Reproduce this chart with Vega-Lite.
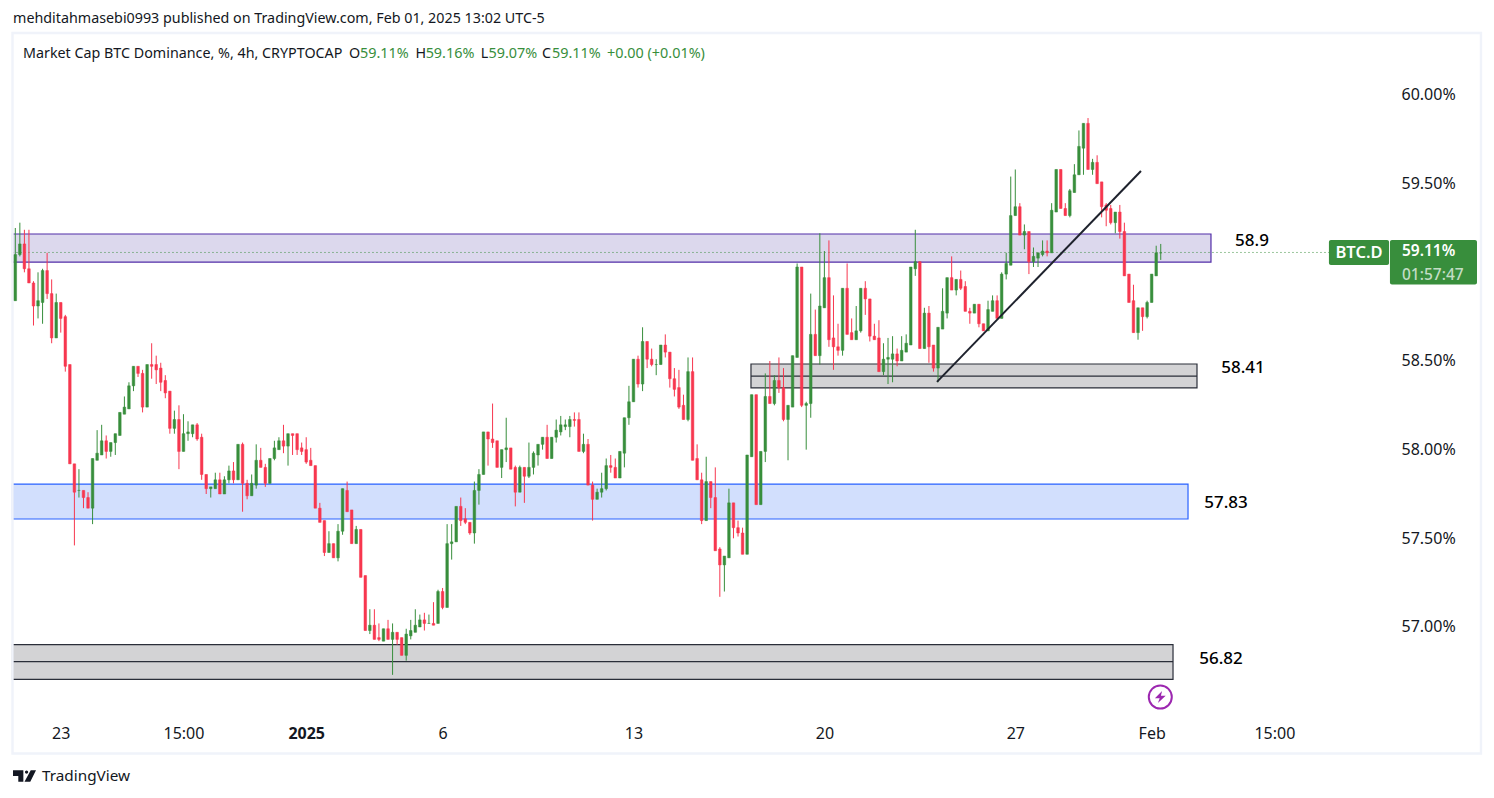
{"$schema":"https://vega.github.io/schema/vega-lite/v6.json","width":1494,"height":798,"padding":0,"autosize":{"type":"none"},"background":"#ffffff","config":{"view":{"stroke":null},"font":"Noto Sans"},
"datasets":{"candles":[
{"t":"2024-12-21T11:00Z","o":58.84,"h":59.25,"l":58.84,"c":59.10},{"t":"2024-12-21T15:00Z","o":59.10,"h":59.28,"l":59.09,"c":59.16},{"t":"2024-12-21T19:00Z","o":59.16,"h":59.24,"l":59.00,"c":59.02},{"t":"2024-12-21T23:00Z","o":59.02,"h":59.24,"l":58.94,"c":58.94},
{"t":"2024-12-22T03:00Z","o":58.94,"h":58.95,"l":58.70,"c":58.81},{"t":"2024-12-22T07:00Z","o":58.81,"h":59.00,"l":58.74,"c":58.84},{"t":"2024-12-22T11:00Z","o":58.83,"h":59.02,"l":58.71,"c":59.01},{"t":"2024-12-22T15:00Z","o":59.01,"h":59.11,"l":58.85,"c":58.88},{"t":"2024-12-22T19:00Z","o":58.88,"h":58.96,"l":58.60,"c":58.63},{"t":"2024-12-22T23:00Z","o":58.63,"h":58.88,"l":58.63,"c":58.83},
{"t":"2024-12-23T03:00Z","o":58.83,"h":58.83,"l":58.66,"c":58.74},{"t":"2024-12-23T07:00Z","o":58.75,"h":58.76,"l":58.44,"c":58.47},{"t":"2024-12-23T11:00Z","o":58.48,"h":58.48,"l":57.92,"c":57.92},{"t":"2024-12-23T15:00Z","o":57.92,"h":57.92,"l":57.46,"c":57.76},{"t":"2024-12-23T19:00Z","o":57.77,"h":57.89,"l":57.73,"c":57.77},{"t":"2024-12-23T23:00Z","o":57.77,"h":57.77,"l":57.67,"c":57.73},
{"t":"2024-12-24T03:00Z","o":57.73,"h":57.76,"l":57.67,"c":57.67},{"t":"2024-12-24T07:00Z","o":57.67,"h":57.95,"l":57.58,"c":57.95},{"t":"2024-12-24T11:00Z","o":57.94,"h":58.11,"l":57.94,"c":57.98},{"t":"2024-12-24T15:00Z","o":57.97,"h":58.14,"l":57.97,"c":58.05},{"t":"2024-12-24T19:00Z","o":58.05,"h":58.08,"l":57.95,"c":57.99},{"t":"2024-12-24T23:00Z","o":57.99,"h":58.04,"l":57.96,"c":58.04},
{"t":"2024-12-25T03:00Z","o":58.04,"h":58.09,"l":57.97,"c":58.09},{"t":"2024-12-25T07:00Z","o":58.08,"h":58.21,"l":58.08,"c":58.21},{"t":"2024-12-25T11:00Z","o":58.20,"h":58.30,"l":58.20,"c":58.24},{"t":"2024-12-25T15:00Z","o":58.23,"h":58.38,"l":58.23,"c":58.36},{"t":"2024-12-25T19:00Z","o":58.36,"h":58.47,"l":58.33,"c":58.47},{"t":"2024-12-25T23:00Z","o":58.47,"h":58.47,"l":58.41,"c":58.43},
{"t":"2024-12-26T03:00Z","o":58.43,"h":58.45,"l":58.21,"c":58.24},{"t":"2024-12-26T07:00Z","o":58.24,"h":58.48,"l":58.24,"c":58.48},{"t":"2024-12-26T11:00Z","o":58.48,"h":58.60,"l":58.40,"c":58.47},{"t":"2024-12-26T15:00Z","o":58.48,"h":58.53,"l":58.37,"c":58.45},{"t":"2024-12-26T19:00Z","o":58.46,"h":58.49,"l":58.33,"c":58.38},{"t":"2024-12-26T23:00Z","o":58.39,"h":58.42,"l":58.29,"c":58.32},
{"t":"2024-12-27T03:00Z","o":58.33,"h":58.33,"l":58.09,"c":58.12},{"t":"2024-12-27T07:00Z","o":58.12,"h":58.22,"l":58.09,"c":58.17},{"t":"2024-12-27T11:00Z","o":58.17,"h":58.25,"l":57.89,"c":57.99},{"t":"2024-12-27T15:00Z","o":57.99,"h":58.20,"l":57.99,"c":58.09},{"t":"2024-12-27T19:00Z","o":58.09,"h":58.16,"l":58.05,"c":58.10},{"t":"2024-12-27T23:00Z","o":58.09,"h":58.14,"l":58.07,"c":58.14},
{"t":"2024-12-28T03:00Z","o":58.14,"h":58.15,"l":58.05,"c":58.06},{"t":"2024-12-28T07:00Z","o":58.07,"h":58.09,"l":57.83,"c":57.86},{"t":"2024-12-28T11:00Z","o":57.86,"h":57.86,"l":57.75,"c":57.78},{"t":"2024-12-28T15:00Z","o":57.78,"h":57.79,"l":57.73,"c":57.79},{"t":"2024-12-28T19:00Z","o":57.78,"h":57.87,"l":57.78,"c":57.83},{"t":"2024-12-28T23:00Z","o":57.83,"h":57.87,"l":57.75,"c":57.75},
{"t":"2024-12-29T03:00Z","o":57.75,"h":57.85,"l":57.75,"c":57.83},{"t":"2024-12-29T07:00Z","o":57.83,"h":57.91,"l":57.81,"c":57.88},{"t":"2024-12-29T11:00Z","o":57.88,"h":57.93,"l":57.81,"c":57.83},{"t":"2024-12-29T15:00Z","o":57.83,"h":58.03,"l":57.83,"c":58.03},{"t":"2024-12-29T19:00Z","o":58.03,"h":58.04,"l":57.65,"c":57.81},{"t":"2024-12-29T23:00Z","o":57.81,"h":57.83,"l":57.72,"c":57.74},
{"t":"2024-12-30T03:00Z","o":57.74,"h":57.86,"l":57.74,"c":57.81},{"t":"2024-12-30T07:00Z","o":57.80,"h":58.03,"l":57.78,"c":57.94},{"t":"2024-12-30T11:00Z","o":57.94,"h":58.01,"l":57.90,"c":57.90},{"t":"2024-12-30T15:00Z","o":57.90,"h":57.92,"l":57.79,"c":57.81},{"t":"2024-12-30T19:00Z","o":57.81,"h":57.95,"l":57.81,"c":57.95},{"t":"2024-12-30T23:00Z","o":57.95,"h":58.05,"l":57.94,"c":58.01},
{"t":"2024-12-31T03:00Z","o":58.00,"h":58.07,"l":58.00,"c":58.05},{"t":"2024-12-31T07:00Z","o":58.05,"h":58.14,"l":57.98,"c":58.02},{"t":"2024-12-31T11:00Z","o":58.02,"h":58.09,"l":57.91,"c":58.09},{"t":"2024-12-31T15:00Z","o":58.09,"h":58.09,"l":57.97,"c":58.08},{"t":"2024-12-31T19:00Z","o":58.09,"h":58.09,"l":57.97,"c":58.00},{"t":"2024-12-31T23:00Z","o":58.01,"h":58.04,"l":57.97,"c":57.99},
{"t":"2025-01-01T03:00Z","o":58.00,"h":58.07,"l":57.92,"c":57.93},{"t":"2025-01-01T07:00Z","o":57.94,"h":58.01,"l":57.91,"c":57.91},{"t":"2025-01-01T11:00Z","o":57.91,"h":57.91,"l":57.67,"c":57.67},{"t":"2025-01-01T15:00Z","o":57.67,"h":57.70,"l":57.59,"c":57.59},{"t":"2025-01-01T19:00Z","o":57.60,"h":57.60,"l":57.40,"c":57.42},{"t":"2025-01-01T23:00Z","o":57.42,"h":57.54,"l":57.42,"c":57.47},
{"t":"2025-01-02T03:00Z","o":57.47,"h":57.47,"l":57.39,"c":57.39},{"t":"2025-01-02T07:00Z","o":57.39,"h":57.58,"l":57.37,"c":57.54},{"t":"2025-01-02T11:00Z","o":57.54,"h":57.78,"l":57.52,"c":57.78},{"t":"2025-01-02T15:00Z","o":57.77,"h":57.82,"l":57.65,"c":57.65},{"t":"2025-01-02T19:00Z","o":57.66,"h":57.66,"l":57.47,"c":57.47},{"t":"2025-01-02T23:00Z","o":57.47,"h":57.57,"l":57.47,"c":57.55},
{"t":"2025-01-03T03:00Z","o":57.55,"h":57.55,"l":57.28,"c":57.28},{"t":"2025-01-03T07:00Z","o":57.29,"h":57.29,"l":56.98,"c":56.98},{"t":"2025-01-03T11:00Z","o":56.98,"h":57.10,"l":56.96,"c":57.01},{"t":"2025-01-03T15:00Z","o":57.01,"h":57.10,"l":56.93,"c":56.93},{"t":"2025-01-03T19:00Z","o":56.94,"h":57.02,"l":56.92,"c":56.93},{"t":"2025-01-03T23:00Z","o":56.92,"h":56.99,"l":56.92,"c":56.99},
{"t":"2025-01-04T03:00Z","o":56.99,"h":57.04,"l":56.93,"c":56.93},{"t":"2025-01-04T07:00Z","o":56.93,"h":57.02,"l":56.73,"c":56.97},{"t":"2025-01-04T11:00Z","o":56.97,"h":56.97,"l":56.90,"c":56.93},{"t":"2025-01-04T15:00Z","o":56.94,"h":56.94,"l":56.84,"c":56.84},{"t":"2025-01-04T19:00Z","o":56.84,"h":56.99,"l":56.81,"c":56.96},{"t":"2025-01-04T23:00Z","o":56.95,"h":57.04,"l":56.93,"c":56.98},
{"t":"2025-01-05T03:00Z","o":56.97,"h":57.10,"l":56.97,"c":57.01},{"t":"2025-01-05T07:00Z","o":57.00,"h":57.07,"l":57.00,"c":57.04},{"t":"2025-01-05T11:00Z","o":57.04,"h":57.08,"l":56.98,"c":57.02},{"t":"2025-01-05T15:00Z","o":57.02,"h":57.07,"l":57.02,"c":57.02},{"t":"2025-01-05T19:00Z","o":57.02,"h":57.14,"l":57.01,"c":57.01},{"t":"2025-01-05T23:00Z","o":57.02,"h":57.21,"l":57.02,"c":57.20},
{"t":"2025-01-06T03:00Z","o":57.20,"h":57.22,"l":57.10,"c":57.11},{"t":"2025-01-06T07:00Z","o":57.11,"h":57.58,"l":57.11,"c":57.47},{"t":"2025-01-06T11:00Z","o":57.47,"h":57.58,"l":57.38,"c":57.48},{"t":"2025-01-06T15:00Z","o":57.48,"h":57.68,"l":57.48,"c":57.68},{"t":"2025-01-06T19:00Z","o":57.68,"h":57.73,"l":57.57,"c":57.60},{"t":"2025-01-06T23:00Z","o":57.61,"h":57.67,"l":57.58,"c":57.59},
{"t":"2025-01-07T03:00Z","o":57.59,"h":57.59,"l":57.52,"c":57.53},{"t":"2025-01-07T07:00Z","o":57.53,"h":57.82,"l":57.47,"c":57.77},{"t":"2025-01-07T11:00Z","o":57.77,"h":57.89,"l":57.69,"c":57.86},{"t":"2025-01-07T15:00Z","o":57.86,"h":58.10,"l":57.86,"c":58.10},{"t":"2025-01-07T19:00Z","o":58.10,"h":58.10,"l":57.91,"c":58.06},{"t":"2025-01-07T23:00Z","o":58.06,"h":58.26,"l":58.01,"c":58.04},
{"t":"2025-01-08T03:00Z","o":58.05,"h":58.05,"l":57.90,"c":57.90},{"t":"2025-01-08T07:00Z","o":57.90,"h":58.00,"l":57.84,"c":58.00},{"t":"2025-01-08T11:00Z","o":58.00,"h":58.18,"l":57.93,"c":58.01},{"t":"2025-01-08T15:00Z","o":58.01,"h":58.01,"l":57.89,"c":57.89},{"t":"2025-01-08T19:00Z","o":57.90,"h":57.91,"l":57.68,"c":57.76},{"t":"2025-01-08T23:00Z","o":57.76,"h":57.91,"l":57.76,"c":57.90},
{"t":"2025-01-09T03:00Z","o":57.90,"h":57.90,"l":57.70,"c":57.85},{"t":"2025-01-09T07:00Z","o":57.85,"h":58.04,"l":57.84,"c":57.90},{"t":"2025-01-09T11:00Z","o":57.90,"h":57.99,"l":57.86,"c":57.98},{"t":"2025-01-09T15:00Z","o":57.97,"h":58.03,"l":57.91,"c":58.03},{"t":"2025-01-09T19:00Z","o":58.03,"h":58.07,"l":58.00,"c":58.07},{"t":"2025-01-09T23:00Z","o":58.07,"h":58.14,"l":57.95,"c":57.95},
{"t":"2025-01-10T03:00Z","o":57.95,"h":58.07,"l":57.95,"c":58.07},{"t":"2025-01-10T07:00Z","o":58.07,"h":58.17,"l":58.04,"c":58.11},{"t":"2025-01-10T11:00Z","o":58.10,"h":58.19,"l":58.08,"c":58.14},{"t":"2025-01-10T15:00Z","o":58.13,"h":58.17,"l":58.11,"c":58.14},{"t":"2025-01-10T19:00Z","o":58.13,"h":58.19,"l":58.07,"c":58.17},{"t":"2025-01-10T23:00Z","o":58.17,"h":58.21,"l":58.13,"c":58.165},
{"t":"2025-01-11T03:00Z","o":58.17,"h":58.21,"l":57.99,"c":57.99},{"t":"2025-01-11T07:00Z","o":57.99,"h":58.09,"l":57.98,"c":58.03},{"t":"2025-01-11T11:00Z","o":58.03,"h":58.06,"l":57.80,"c":57.80},{"t":"2025-01-11T15:00Z","o":57.80,"h":57.82,"l":57.60,"c":57.72},{"t":"2025-01-11T19:00Z","o":57.72,"h":57.78,"l":57.72,"c":57.76},{"t":"2025-01-11T23:00Z","o":57.76,"h":57.87,"l":57.73,"c":57.78},
{"t":"2025-01-12T03:00Z","o":57.78,"h":57.95,"l":57.77,"c":57.91},{"t":"2025-01-12T07:00Z","o":57.91,"h":57.97,"l":57.87,"c":57.90},{"t":"2025-01-12T11:00Z","o":57.90,"h":57.95,"l":57.84,"c":57.84},{"t":"2025-01-12T15:00Z","o":57.84,"h":57.99,"l":57.84,"c":57.99},{"t":"2025-01-12T19:00Z","o":57.98,"h":58.18,"l":57.90,"c":58.18},{"t":"2025-01-12T23:00Z","o":58.18,"h":58.36,"l":58.14,"c":58.27},
{"t":"2025-01-13T03:00Z","o":58.27,"h":58.51,"l":58.27,"c":58.51},{"t":"2025-01-13T07:00Z","o":58.51,"h":58.53,"l":58.35,"c":58.37},{"t":"2025-01-13T11:00Z","o":58.37,"h":58.69,"l":58.33,"c":58.61},{"t":"2025-01-13T15:00Z","o":58.61,"h":58.61,"l":58.46,"c":58.51},{"t":"2025-01-13T19:00Z","o":58.51,"h":58.57,"l":58.47,"c":58.48},{"t":"2025-01-13T23:00Z","o":58.48,"h":58.51,"l":58.42,"c":58.48},
{"t":"2025-01-14T03:00Z","o":58.48,"h":58.59,"l":58.48,"c":58.59},{"t":"2025-01-14T07:00Z","o":58.59,"h":58.65,"l":58.52,"c":58.55},{"t":"2025-01-14T11:00Z","o":58.55,"h":58.55,"l":58.35,"c":58.40},{"t":"2025-01-14T15:00Z","o":58.40,"h":58.46,"l":58.30,"c":58.34},{"t":"2025-01-14T19:00Z","o":58.35,"h":58.45,"l":58.23,"c":58.24},{"t":"2025-01-14T23:00Z","o":58.25,"h":58.31,"l":58.17,"c":58.17},
{"t":"2025-01-15T03:00Z","o":58.17,"h":58.52,"l":58.16,"c":58.44},{"t":"2025-01-15T07:00Z","o":58.44,"h":58.52,"l":57.94,"c":57.94},{"t":"2025-01-15T11:00Z","o":57.95,"h":58.03,"l":57.83,"c":57.83},{"t":"2025-01-15T15:00Z","o":57.83,"h":57.87,"l":57.58,"c":57.60},{"t":"2025-01-15T19:00Z","o":57.60,"h":57.96,"l":57.60,"c":57.82},{"t":"2025-01-15T23:00Z","o":57.82,"h":57.82,"l":57.67,"c":57.73},
{"t":"2025-01-16T03:00Z","o":57.73,"h":57.90,"l":57.43,"c":57.43},{"t":"2025-01-16T07:00Z","o":57.44,"h":57.45,"l":57.17,"c":57.35},{"t":"2025-01-16T11:00Z","o":57.35,"h":57.40,"l":57.20,"c":57.40},{"t":"2025-01-16T15:00Z","o":57.39,"h":57.78,"l":57.39,"c":57.70},{"t":"2025-01-16T19:00Z","o":57.70,"h":57.70,"l":57.50,"c":57.56},{"t":"2025-01-16T23:00Z","o":57.56,"h":57.60,"l":57.51,"c":57.53},
{"t":"2025-01-17T03:00Z","o":57.53,"h":57.56,"l":57.41,"c":57.41},{"t":"2025-01-17T07:00Z","o":57.41,"h":57.97,"l":57.41,"c":57.97},{"t":"2025-01-17T11:00Z","o":57.96,"h":58.31,"l":57.96,"c":58.31},{"t":"2025-01-17T15:00Z","o":58.31,"h":58.31,"l":57.69,"c":57.69},{"t":"2025-01-17T19:00Z","o":57.69,"h":57.99,"l":57.69,"c":57.99},{"t":"2025-01-17T23:00Z","o":57.99,"h":58.43,"l":57.93,"c":58.30},
{"t":"2025-01-18T03:00Z","o":58.30,"h":58.50,"l":58.26,"c":58.26},{"t":"2025-01-18T07:00Z","o":58.26,"h":58.42,"l":58.25,"c":58.39},{"t":"2025-01-18T11:00Z","o":58.39,"h":58.52,"l":58.32,"c":58.35},{"t":"2025-01-18T15:00Z","o":58.35,"h":58.46,"l":58.16,"c":58.17},{"t":"2025-01-18T19:00Z","o":58.17,"h":58.25,"l":57.94,"c":58.25},{"t":"2025-01-18T23:00Z","o":58.24,"h":58.53,"l":58.24,"c":58.53},
{"t":"2025-01-19T03:00Z","o":58.52,"h":59.05,"l":58.52,"c":59.03},{"t":"2025-01-19T07:00Z","o":59.03,"h":59.03,"l":58.24,"c":58.25},{"t":"2025-01-19T11:00Z","o":58.25,"h":58.27,"l":58.00,"c":58.26},{"t":"2025-01-19T15:00Z","o":58.26,"h":58.88,"l":58.18,"c":58.65},{"t":"2025-01-19T19:00Z","o":58.65,"h":58.79,"l":58.53,"c":58.53},{"t":"2025-01-19T23:00Z","o":58.53,"h":59.22,"l":58.48,"c":58.81},
{"t":"2025-01-20T03:00Z","o":58.80,"h":59.12,"l":58.80,"c":58.97},{"t":"2025-01-20T07:00Z","o":58.97,"h":59.18,"l":58.58,"c":58.62},{"t":"2025-01-20T11:00Z","o":58.63,"h":58.87,"l":58.45,"c":58.58},{"t":"2025-01-20T15:00Z","o":58.58,"h":58.71,"l":58.53,"c":58.56},{"t":"2025-01-20T19:00Z","o":58.56,"h":58.91,"l":58.53,"c":58.91},{"t":"2025-01-20T23:00Z","o":58.91,"h":59.05,"l":58.65,"c":58.65},
{"t":"2025-01-21T03:00Z","o":58.66,"h":58.74,"l":58.62,"c":58.62},{"t":"2025-01-21T07:00Z","o":58.62,"h":58.81,"l":58.62,"c":58.67},{"t":"2025-01-21T11:00Z","o":58.67,"h":58.91,"l":58.66,"c":58.91},{"t":"2025-01-21T15:00Z","o":58.91,"h":58.95,"l":58.76,"c":58.85},{"t":"2025-01-21T19:00Z","o":58.85,"h":58.85,"l":58.61,"c":58.64},{"t":"2025-01-21T23:00Z","o":58.64,"h":58.71,"l":58.62,"c":58.62},
{"t":"2025-01-22T03:00Z","o":58.63,"h":58.73,"l":58.44,"c":58.44},{"t":"2025-01-22T07:00Z","o":58.44,"h":58.60,"l":58.42,"c":58.51},{"t":"2025-01-22T11:00Z","o":58.51,"h":58.63,"l":58.37,"c":58.52},{"t":"2025-01-22T15:00Z","o":58.51,"h":58.64,"l":58.38,"c":58.54},{"t":"2025-01-22T19:00Z","o":58.54,"h":58.57,"l":58.47,"c":58.50},{"t":"2025-01-22T23:00Z","o":58.50,"h":58.64,"l":58.50,"c":58.56},
{"t":"2025-01-23T03:00Z","o":58.55,"h":58.65,"l":58.55,"c":58.60},{"t":"2025-01-23T07:00Z","o":58.59,"h":59.03,"l":58.59,"c":59.03},{"t":"2025-01-23T11:00Z","o":59.02,"h":59.24,"l":58.98,"c":59.06},{"t":"2025-01-23T15:00Z","o":59.06,"h":59.06,"l":58.57,"c":58.57},{"t":"2025-01-23T19:00Z","o":58.57,"h":58.80,"l":58.57,"c":58.77},{"t":"2025-01-23T23:00Z","o":58.77,"h":58.81,"l":58.49,"c":58.58},
{"t":"2025-01-24T03:00Z","o":58.59,"h":58.59,"l":58.44,"c":58.46},{"t":"2025-01-24T07:00Z","o":58.46,"h":58.69,"l":58.38,"c":58.69},{"t":"2025-01-24T11:00Z","o":58.68,"h":58.91,"l":58.68,"c":58.78},{"t":"2025-01-24T15:00Z","o":58.77,"h":58.97,"l":58.74,"c":58.97},{"t":"2025-01-24T19:00Z","o":58.97,"h":59.09,"l":58.90,"c":58.90},{"t":"2025-01-24T23:00Z","o":58.90,"h":58.96,"l":58.87,"c":58.96},
{"t":"2025-01-25T03:00Z","o":58.96,"h":59.01,"l":58.90,"c":58.91},{"t":"2025-01-25T07:00Z","o":58.92,"h":58.95,"l":58.78,"c":58.78},{"t":"2025-01-25T11:00Z","o":58.78,"h":58.80,"l":58.71,"c":58.77},{"t":"2025-01-25T15:00Z","o":58.77,"h":58.82,"l":58.77,"c":58.82},{"t":"2025-01-25T19:00Z","o":58.82,"h":58.82,"l":58.69,"c":58.71},{"t":"2025-01-25T23:00Z","o":58.71,"h":58.71,"l":58.67,"c":58.67},
{"t":"2025-01-26T03:00Z","o":58.67,"h":58.84,"l":58.67,"c":58.79},{"t":"2025-01-26T07:00Z","o":58.78,"h":58.87,"l":58.78,"c":58.84},{"t":"2025-01-26T11:00Z","o":58.84,"h":58.87,"l":58.74,"c":58.74},{"t":"2025-01-26T15:00Z","o":58.74,"h":59.00,"l":58.74,"c":58.99},{"t":"2025-01-26T19:00Z","o":58.99,"h":59.11,"l":58.96,"c":59.05},{"t":"2025-01-26T23:00Z","o":59.04,"h":59.54,"l":59.04,"c":59.32},
{"t":"2025-01-27T03:00Z","o":59.32,"h":59.58,"l":59.32,"c":59.37},{"t":"2025-01-27T07:00Z","o":59.37,"h":59.39,"l":59.21,"c":59.21},{"t":"2025-01-27T11:00Z","o":59.21,"h":59.27,"l":59.13,"c":59.23},{"t":"2025-01-27T15:00Z","o":59.23,"h":59.23,"l":58.99,"c":59.06},{"t":"2025-01-27T19:00Z","o":59.06,"h":59.14,"l":59.03,"c":59.09},{"t":"2025-01-27T23:00Z","o":59.08,"h":59.11,"l":59.03,"c":59.11},
{"t":"2025-01-28T03:00Z","o":59.10,"h":59.18,"l":59.09,"c":59.12},{"t":"2025-01-28T07:00Z","o":59.12,"h":59.18,"l":59.09,"c":59.11},{"t":"2025-01-28T11:00Z","o":59.11,"h":59.39,"l":59.11,"c":59.35},{"t":"2025-01-28T15:00Z","o":59.34,"h":59.58,"l":59.34,"c":59.58},{"t":"2025-01-28T19:00Z","o":59.58,"h":59.58,"l":59.36,"c":59.36},{"t":"2025-01-28T23:00Z","o":59.36,"h":59.39,"l":59.32,"c":59.32},
{"t":"2025-01-29T03:00Z","o":59.32,"h":59.47,"l":59.31,"c":59.46},{"t":"2025-01-29T07:00Z","o":59.45,"h":59.61,"l":59.45,"c":59.55},{"t":"2025-01-29T11:00Z","o":59.55,"h":59.80,"l":59.55,"c":59.71},{"t":"2025-01-29T15:00Z","o":59.70,"h":59.84,"l":59.55,"c":59.84},{"t":"2025-01-29T19:00Z","o":59.84,"h":59.87,"l":59.58,"c":59.58},{"t":"2025-01-29T23:00Z","o":59.58,"h":59.64,"l":59.55,"c":59.62},
{"t":"2025-01-30T03:00Z","o":59.62,"h":59.66,"l":59.50,"c":59.50},{"t":"2025-01-30T07:00Z","o":59.51,"h":59.51,"l":59.31,"c":59.37},{"t":"2025-01-30T11:00Z","o":59.38,"h":59.39,"l":59.26,"c":59.35},{"t":"2025-01-30T15:00Z","o":59.36,"h":59.38,"l":59.27,"c":59.28},{"t":"2025-01-30T19:00Z","o":59.28,"h":59.34,"l":59.22,"c":59.34},{"t":"2025-01-30T23:00Z","o":59.34,"h":59.38,"l":59.19,"c":59.23},
{"t":"2025-01-31T03:00Z","o":59.23,"h":59.28,"l":58.98,"c":58.98},{"t":"2025-01-31T07:00Z","o":58.99,"h":58.99,"l":58.83,"c":58.83},{"t":"2025-01-31T11:00Z","o":58.84,"h":58.93,"l":58.66,"c":58.66},{"t":"2025-01-31T15:00Z","o":58.66,"h":58.80,"l":58.62,"c":58.80},{"t":"2025-01-31T19:00Z","o":58.80,"h":58.80,"l":58.67,"c":58.75},{"t":"2025-01-31T23:00Z","o":58.75,"h":58.84,"l":58.74,"c":58.83},
{"t":"2025-02-01T03:00Z","o":58.83,"h":58.99,"l":58.83,"c":58.99},{"t":"2025-02-01T07:00Z","o":58.98,"h":59.15,"l":58.98,"c":59.11},{"t":"2025-02-01T11:00Z","o":59.11,"h":59.16,"l":59.07,"c":59.11}
]},
"encoding":{
"x":{"field":"t","type":"temporal","scale":{"type":"utc","padding":0,"domain":[{"year":2024,"month":12,"date":20,"hours":21,"minutes":32,"utc":true},{"year":2025,"month":2,"date":13,"hours":16,"minutes":16,"utc":true}]},
"axis":{"orient":"bottom","offset":-73,"zindex":1,"title":null,"domain":false,"ticks":false,"grid":false,"labelPadding":0,"labelFontSize":16,"labelColor":"#131722","labelFont":"Noto Sans","labelOverlap":false,"labelBound":false,"labelFlush":false,"labelBaseline":"top",
"values":[{"year":2024,"month":12,"date":23,"hours":3,"utc":true},{"year":2024,"month":12,"date":27,"hours":15,"utc":true},{"year":2025,"month":1,"date":1,"hours":3,"utc":true},{"year":2025,"month":1,"date":6,"hours":3,"utc":true},{"year":2025,"month":1,"date":13,"hours":3,"utc":true},{"year":2025,"month":1,"date":20,"hours":3,"utc":true},{"year":2025,"month":1,"date":27,"hours":3,"utc":true},{"year":2025,"month":2,"date":1,"hours":3,"utc":true},{"year":2025,"month":2,"date":5,"hours":15,"utc":true}],
"labelExpr":"utcmonth(datum.value)==1 && utcdate(datum.value)==1 ? 'Feb' : utchours(datum.value)==15 ? '15:00' : utcdate(datum.value)==1 ? '2025' : ''+utcdate(datum.value)",
"labelFontWeight":{"condition":{"test":"utcmonth(datum.value)==0 && utcdate(datum.value)==1","value":"bold"},"value":"normal"}}},
"y":{"field":"p","type":"quantitative","scale":{"domain":[56.0356,60.5357],"nice":false,"zero":false},
"axis":{"orient":"right","offset":-93,"zindex":1,"title":null,"domain":false,"ticks":false,"grid":false,"labelPadding":0,"labelFontSize":16,"labelColor":"#131722","labelFont":"Noto Sans","labelOverlap":false,"labelBound":false,"labelAlign":"left","values":[57,57.5,58,58.5,59.5,60],"labelExpr":"format(datum.value,'.2f')+'%'"}}},
"layer":[
{"data":{"values":[{"t":"2024-12-21T08:32Z","t2":"2025-02-03T07:12Z","p":59.216,"p2":59.058}]},"mark":{"type":"rect","fill":"#dcd8ed","stroke":"#512da8","strokeWidth":1.2},"encoding":{"x2":{"field":"t2"},"y2":{"field":"p2"}}},
{"data":{"values":[{"t":"2024-12-21T08:32Z","t2":"2025-02-02T11:00Z","p":57.806,"p2":57.609}]},"mark":{"type":"rect","fill":"#d2dffd","stroke":"#2962ff","strokeWidth":1.2},"encoding":{"x2":{"field":"t2"},"y2":{"field":"p2"}}},
{"data":{"values":[{"t":"2024-12-21T08:32Z","t2":"2025-02-01T21:48Z","p":56.901,"p2":56.704},{"t":"2025-01-17T10:24Z","t2":"2025-02-02T18:54Z","p":58.483,"p2":58.348}]},"mark":{"type":"rect","fill":"#d3d3d5","stroke":"#2a2e39","strokeWidth":1.2},"encoding":{"x2":{"field":"t2"},"y2":{"field":"p2"}}},
{"data":{"values":[{"t":"2024-12-21T08:32Z","t2":"2025-02-01T21:48Z","p":56.805},{"t":"2025-01-17T10:24Z","t2":"2025-02-02T18:54Z","p":58.415}]},"mark":{"type":"rule","stroke":"#2a2e39","strokeWidth":1.2},"encoding":{"x2":{"field":"t2"}}},
{"data":{"values":[{"t":"2024-12-21T08:32Z","t2":"2025-02-07T15:54Z","p":59.112}]},"mark":{"type":"rule","stroke":"#388e3c","strokeWidth":1,"strokeDash":[1,3]},"encoding":{"x2":{"field":"t2"}}},
{"data":{"values":[{"t":"2024-12-21T08:32Z","t2":"2025-02-13T04:48Z","p":60.35,"p2":56.2866}]},"mark":{"type":"rect","fillOpacity":0,"fill":"#ffffff","stroke":"#f0f3fa","strokeWidth":2.4},"encoding":{"x2":{"field":"t2"},"y2":{"field":"p2"}}},
{"data":{"name":"candles"},"mark":{"type":"rule","strokeWidth":1},"encoding":{"y":{"field":"l","type":"quantitative","scale":{"domain":[56.0356,60.5357],"nice":false,"zero":false},"axis":{"orient":"right","offset":-93,"zindex":1,"title":null,"domain":false,"ticks":false,"grid":false,"labelPadding":0,"labelFontSize":16,"labelColor":"#131722","labelFont":"Noto Sans","labelOverlap":false,"labelBound":false,"labelAlign":"left","values":[57,57.5,58,58.5,59.5,60],"labelExpr":"format(datum.value,'.2f')+'%'"}},"y2":{"field":"h"},"color":{"condition":{"test":"datum.c>=datum.o","value":"#388e3c"},"value":"#f7374f"}}},
{"data":{"name":"candles"},"mark":{"type":"bar","size":2.6,"strokeWidth":0.5},"encoding":{"y":{"field":"o","type":"quantitative","scale":{"domain":[56.0356,60.5357],"nice":false,"zero":false},"axis":{"orient":"right","offset":-93,"zindex":1,"title":null,"domain":false,"ticks":false,"grid":false,"labelPadding":0,"labelFontSize":16,"labelColor":"#131722","labelFont":"Noto Sans","labelOverlap":false,"labelBound":false,"labelAlign":"left","values":[57,57.5,58,58.5,59.5,60],"labelExpr":"format(datum.value,'.2f')+'%'"}},"y2":{"field":"c"},"fill":{"condition":{"test":"datum.c>=datum.o","value":"#388e3c"},"value":"#f7374f"},"stroke":{"condition":{"test":"datum.c>=datum.o","value":"#388e3c"},"value":"#f7374f"}}},
{"data":{"values":[{"t":"2025-01-24T06:06Z","p":58.382},{"t":"2025-01-31T17:36Z","p":59.571}]},"mark":{"type":"line","stroke":"#1e222d","strokeWidth":2},"encoding":{}},
{"data":{"values":[{"t":"2025-02-07T15:00Z","t2":"2025-02-09T19:54Z","p":59.182,"p2":59.041},{"t":"2025-02-09T20:42Z","t2":"2025-02-13T01:18Z","p":59.182,"p2":58.931}]},"mark":{"type":"rect","fill":"#388e3c","cornerRadius":2},"encoding":{"x2":{"field":"t2"},"y2":{"field":"p2"}}},
{"data":{"values":[{"t":"2025-02-04T19:18Z","p":59.177,"label":"58.9"},{"t":"2025-02-04T11:24Z","p":58.46,"label":"58.41"},{"t":"2025-02-03T20:24Z","p":57.699,"label":"57.83"},{"t":"2025-02-03T16:00Z","p":56.819,"label":"56.82"}]},"mark":{"type":"text","font":"Noto Sans","fontSize":17,"fontWeight":500,"fill":"#000000","align":"center","baseline":"middle"},"encoding":{"text":{"field":"label"}}},
{"data":{"values":[{"t":"2025-02-08T17:30Z","p":59.109,"label":"BTC.D"}]},"mark":{"type":"text","font":"Noto Sans","fontSize":16.5,"fontWeight":600,"fill":"#ffffff","align":"center","baseline":"middle"},"encoding":{"text":{"field":"label"}}},
{"data":{"values":[{"t":"2025-02-10T07:18Z","p":59.12,"label":"59.11%"}]},"mark":{"type":"text","font":"Noto Sans","fontSize":15.5,"fontWeight":600,"fill":"#ffffff","align":"left","baseline":"middle"},"encoding":{"text":{"field":"label"}}},
{"data":{"values":[{"t":"2025-02-10T07:18Z","p":58.985,"label":"01:57:47"}]},"mark":{"type":"text","font":"Noto Sans","fontSize":15.5,"fontWeight":500,"fill":"#c3ddc5","align":"left","baseline":"middle"},"encoding":{"text":{"field":"label"}}},
{"data":{"values":[{"t":"2024-12-21T09:00Z","p":60.4286,"label":"mehditahmasebi0993 published on TradingView.com, Feb 01, 2025 13:02 UTC-5"},{"t":"2024-12-21T17:48Z","p":60.231,"label":"Market Cap BTC Dominance, %, 4h, CRYPTOCAP"},{"t":"2025-01-02T16:36Z","p":60.231,"label":"O"},{"t":"2025-01-05T03:12Z","p":60.231,"label":"H"},{"t":"2025-01-07T12:36Z","p":60.231,"label":"L"},{"t":"2025-01-09T18:24Z","p":60.231,"label":"C"}]},"mark":{"type":"text","font":"Noto Sans","fontSize":14.3,"fill":"#131722","align":"left","baseline":"middle"},"encoding":{"text":{"field":"label"}}},
{"data":{"values":[{"t":"2025-01-03T02:18Z","p":60.231,"label":"59.11%"},{"t":"2025-01-05T12:06Z","p":60.231,"label":"59.16%"},{"t":"2025-01-07T19:24Z","p":60.231,"label":"59.07%"},{"t":"2025-01-10T03:18Z","p":60.231,"label":"59.11%"},{"t":"2025-01-12T03:42Z","p":60.231,"label":"+0.00 (+0.01%)"}]},"mark":{"type":"text","font":"Noto Sans","fontSize":14.4,"fill":"#388e3c","align":"left","baseline":"middle"},"encoding":{"text":{"field":"label"}}},
{"data":{"values":[{"t":"2024-12-22T10:30Z","p":56.16,"label":"TradingView"}]},"mark":{"type":"text","font":"Noto Sans","fontSize":15.3,"fill":"#131722","align":"left","baseline":"middle"},"encoding":{"text":{"field":"label"}}},
{"data":{"values":[{"t":"2024-12-21T19:06Z","p":56.16}]},"mark":{"type":"point","filled":true,"fill":"#131722","opacity":1,"size":2116,"strokeWidth":0,"shape":"M-0.5 -0.25 H-0.05 V0.25 H-0.27 V0 H-0.5 Z M0.02 -0.17 a0.07 0.07 0 1 0 0.14 0 a0.07 0.07 0 1 0 -0.14 0 Z M0.27 -0.25 H0.5 L0.25 0.25 H0 Z"},"encoding":{}},
{"data":{"values":[{"t":"2025-02-01T10:36Z","p":56.605}]},"mark":{"type":"point","shape":"circle","filled":false,"stroke":"#9c27b0","strokeWidth":2,"opacity":1,"size":530},"encoding":{}},
{"data":{"values":[{"t":"2025-02-01T10:36Z","p":56.605}]},"mark":{"type":"point","filled":true,"fill":"#9c27b0","opacity":1,"strokeWidth":0,"size":576,"shape":"M0.15 -0.5 L-0.45 0.1 H-0.05 L-0.2 0.5 L0.45 -0.1 H0.05 Z"},"encoding":{}}
]}
